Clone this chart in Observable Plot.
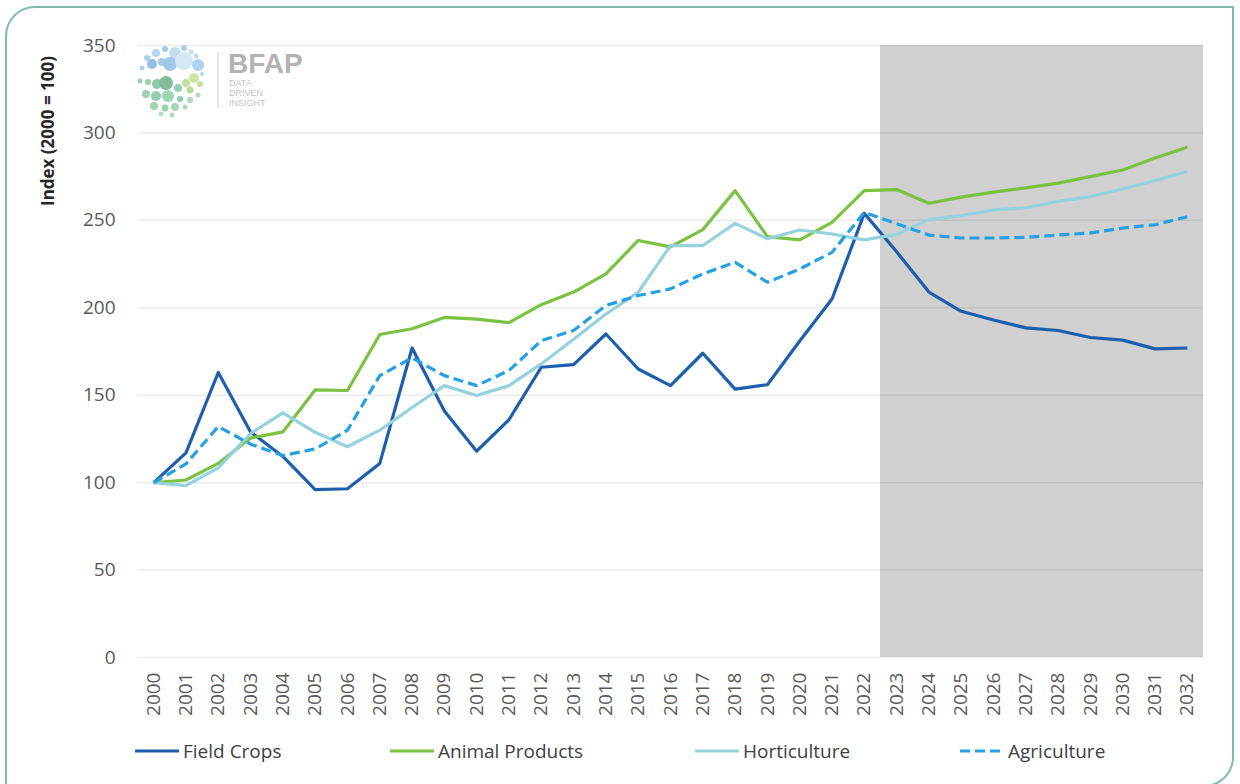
<!DOCTYPE html>
<html>
<head>
<meta charset="utf-8">
<script src="https://cdn.jsdelivr.net/npm/d3@7"></script>
<script src="https://cdn.jsdelivr.net/npm/@observablehq/plot@0.6"></script>
<style>
  html, body { margin: 0; padding: 0; background: #fff; }
  #wrap { position: relative; width: 1240px; height: 784px; overflow: hidden; font-family: "Open Sans", sans-serif; }
  #frame { position: absolute; left: 5px; top: 6px; width: 1229px; height: 781px; box-sizing: border-box;
           border: 2.5px solid #7fbab5; border-top-left-radius: 30px; border-bottom-right-radius: 30px; pointer-events: none; }
  #chart { position: absolute; left: 0; top: 0; }
  #ytitle { position: absolute; left: 47px; top: 42px; transform-origin: 0 0; transform: translate(-11px, 164px) rotate(-90deg);
            font-weight: 700; font-size: 17px; color: #262626; white-space: nowrap; }
  #logo { position: absolute; left: 134px; top: 44px; }
  #legend { position: absolute; left: 0; top: 736px; width: 1240px; height: 30px; }
  .item { position: absolute; top: 0; display: flex; align-items: center; font-size: 19px; color: #404040; white-space: nowrap; }
  .item svg { margin-right: 4px; }
</style>
</head>
<body>
<div id="wrap">
  <div id="chart"></div>
  <div id="ytitle">Index (2000 = 100)</div>
  <svg id="logo" width="190" height="75" viewBox="0 0 190 75">
    <g opacity="0.85">
      <circle cx="13" cy="14" r="3" fill="#9cc8e6"/>
      <circle cx="22" cy="9" r="4" fill="#a8d0ea"/>
      <circle cx="31" cy="5" r="3" fill="#8ebfe2"/>
      <circle cx="41" cy="9" r="6" fill="#b6d9ee"/>
      <circle cx="50" cy="4" r="3" fill="#9ccbe8"/>
      <circle cx="57" cy="8" r="2.5" fill="#bcdcec"/>
      <circle cx="18" cy="20" r="5" fill="#7fb4de"/>
      <circle cx="28" cy="18" r="4" fill="#94c3e4"/>
      <circle cx="36" cy="20" r="7" fill="#8dbfe2"/>
      <circle cx="50" cy="17" r="9" fill="#cde6f1"/>
      <circle cx="64" cy="21" r="6" fill="#9fcbe7"/>
      <circle cx="8" cy="24" r="2.5" fill="#a2cbe6"/>
      <circle cx="62" cy="12" r="2.5" fill="#b5d7ea"/>
      <circle cx="68" cy="30" r="2" fill="#a4cfe8"/>
      <circle cx="6" cy="37" r="2.5" fill="#84c99c"/>
      <circle cx="14" cy="38" r="3" fill="#86c9a0"/>
      <circle cx="23" cy="40" r="5" fill="#7cc09a"/>
      <circle cx="32" cy="39" r="7" fill="#6fae8c"/>
      <circle cx="44" cy="44" r="4" fill="#86c6a4"/>
      <circle cx="52" cy="39" r="4" fill="#b8dd86"/>
      <circle cx="60" cy="34" r="5" fill="#c3e38e"/>
      <circle cx="66" cy="40" r="3" fill="#bde08a"/>
      <circle cx="56" cy="46" r="3.5" fill="#a9d684"/>
      <circle cx="12" cy="50" r="4" fill="#8ccca6"/>
      <circle cx="22" cy="52" r="5" fill="#82c6a0"/>
      <circle cx="34" cy="52" r="6" fill="#8ccfa8"/>
      <circle cx="46" cy="55" r="3" fill="#7ec49e"/>
      <circle cx="56" cy="56" r="3" fill="#9ad4ae"/>
      <circle cx="64" cy="51" r="2.5" fill="#a0d6b0"/>
      <circle cx="20" cy="62" r="4" fill="#8ecfa8"/>
      <circle cx="31" cy="64" r="3.5" fill="#84c8a2"/>
      <circle cx="41" cy="63" r="4" fill="#92d1aa"/>
      <circle cx="51" cy="63" r="2.5" fill="#9ed5b0"/>
      <circle cx="27" cy="70" r="2.5" fill="#a8d9b8"/>
      <circle cx="38" cy="71" r="2.5" fill="#9fd6b2"/>
    </g>
    <line x1="84" y1="8" x2="84" y2="64" stroke="#dcdcdc" stroke-width="1.5"/>
    <text x="94" y="29" font-family="Liberation Sans, Arial, sans-serif" font-weight="700" font-size="28" fill="#b3b3b3">BFAP</text>
    <text x="95" y="42" font-family="Liberation Sans, Arial, sans-serif" font-size="9" fill="#c4c4c4">DATA</text>
    <text x="95" y="52" font-family="Liberation Sans, Arial, sans-serif" font-size="9" fill="#c4c4c4">DRIVEN</text>
    <text x="95" y="62" font-family="Liberation Sans, Arial, sans-serif" font-size="9" fill="#c4c4c4">INSIGHT</text>
  </svg>
  <div id="legend"></div>
  <div id="frame"></div>
</div>
<script>
// ---- data ----
const years = [2000,2001,2002,2003,2004,2005,2006,2007,2008,2009,2010,2011,2012,2013,2014,2015,2016,
               2017,2018,2019,2020,2021,2022,2023,2024,2025,2026,2027,2028,2029,2030,2031,2032];
const forecastYears = [2023,2024,2025,2026,2027,2028,2029,2030,2031,2032];
const yTicks = [0,50,100,150,200,250,300,350];

const fieldCrops     = [100,117,163,129,115,96,96.5,111,177,141,118,136,166,167.5,185,165,155.5,174,153.5,156,181,205,254,
                        232,209,198,193,188.5,187,183,181.5,176.5,177];
const animalProducts = [100,101.5,111,125.5,129,153,152.7,184.7,188,194.5,193.5,191.5,201.8,209,219.4,238.5,234.8,244.7,267,240.7,238.8,248.9,267,
                        267.6,259.8,263.3,266.1,268.6,271.3,275,278.8,285.7,291.8];
const horticulture   = [100,98.3,108.5,128,139.9,128.8,120.5,130,143,155.5,149.8,155.5,167.9,182,196.4,208.9,235.6,235.6,248.3,239.5,244.5,242.2,238.8,
                        242,250.4,252.7,256,257.1,260.9,263.6,268,272.7,277.9];
const agriculture    = [100,110.7,132.1,122,115.5,119.3,130,161.2,171.4,161.2,155.5,164.1,181.2,187,201.3,207,210.8,219.4,226,214.6,222.2,231.7,254.6,
                        248,241.6,239.9,239.9,240.3,241.6,242.8,245.6,247.5,252.1];

const seriesNames = ["Field Crops","Animal Products","Horticulture","Agriculture"];
const seriesValues = [fieldCrops, animalProducts, horticulture, agriculture];
const seriesColors = ["#1d5ead","#7cc242","#94d2de","#25a0e2"];
const seriesDash = [null, null, null, "10,5"];

// ---- chart ----
const rows = (vals) => years.map((y, i) => ({year: y, value: vals[i]}));
const band = [{start: forecastYears[0], end: forecastYears[forecastYears.length - 1]}];

const lineMarks = seriesValues.map((vals, i) =>
  Plot.line(rows(vals), {x: "year", y: "value", stroke: seriesColors[i], strokeWidth: 3.2,
    strokeDasharray: seriesDash[i] ?? undefined, strokeLinejoin: "round", strokeLinecap: "butt"})
);

const chart = Plot.plot({
  width: 1240,
  height: 720,
  marginLeft: 137,
  marginRight: 37,
  marginTop: 45,
  marginBottom: 63,
  style: {fontFamily: "'Open Sans', sans-serif", fontSize: "19px", color: "#595959", background: "transparent"},
  x: {type: "linear", domain: [years[0] - 0.5, years[years.length - 1] + 0.5]},
  y: {domain: [yTicks[0], yTicks[yTicks.length - 1]]},
  marks: [
    Plot.rect(band, {x1: d => d.start - 0.5, x2: d => d.end + 0.5, y1: yTicks[0], y2: yTicks[yTicks.length - 1], fill: "#d0d0d0"}),
    Plot.ruleY(yTicks, {stroke: "#000", strokeOpacity: 0.075, strokeWidth: 1.5}),
    ...lineMarks,
    Plot.axisX(years, {tickSize: 0, tickPadding: 15, tickRotate: -90, tickFormat: d => String(d), label: null, fontSize: 19}),
    Plot.axisY(yTicks, {tickSize: 0, tickPadding: 22, label: null, fontSize: 19})
  ]
});
document.getElementById("chart").appendChild(chart);

// ---- legend ----
const legendX = [135, 390, 695, 960];
const legend = document.getElementById("legend");
seriesNames.forEach((name, i) => {
  const item = document.createElement("div");
  item.className = "item";
  item.style.left = legendX[i] + "px";
  const dash = seriesDash[i] ? `stroke-dasharray="${seriesDash[i]}"` : "";
  item.innerHTML = `<svg width="44" height="30"><line x1="0" x2="44" y1="15" y2="15" stroke="${seriesColors[i]}" stroke-width="3.2" ${dash}/></svg><span>${name}</span>`;
  legend.appendChild(item);
});
</script>
</body>
</html>
